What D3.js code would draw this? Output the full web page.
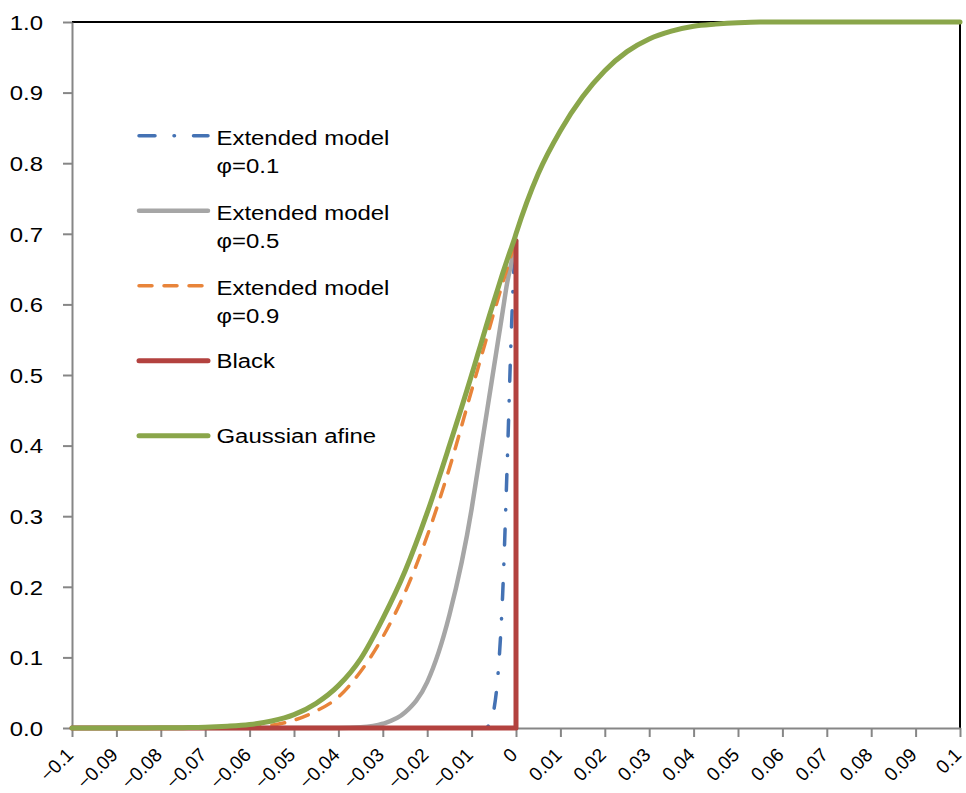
<!DOCTYPE html>
<html>
<head>
<meta charset="utf-8">
<script src="https://cdn.jsdelivr.net/npm/d3@7"></script>
<style>
    body { margin: 0; background: #fff; }
    svg { display: block; font-family: "Liberation Sans", Arial, sans-serif; }
</style>
</head>
<body>
<svg width="966" height="793"></svg>
<script>
var xGrid = [-0.1, -0.095, -0.09, -0.085, -0.08, -0.075, -0.07, -0.065, -0.06, -0.055,
    -0.05, -0.045, -0.04, -0.035, -0.03, -0.025, -0.02, -0.015, -0.01, -0.009,
    -0.008, -0.007, -0.006, -0.005, -0.004, -0.003, -0.002, -0.001, -0.0005, 0,
    0.005, 0.01, 0.015, 0.02, 0.025, 0.03, 0.035, 0.04, 0.045, 0.05, 0.055, 0.06, 0.07, 0.08, 0.09, 0.1];

var phi01 = [0, 0, 0, 0, 0, 0, 0, 0, 0, 0,
    0, 0, 0, 0, 0, 0, 0, 0, 0, 0,
    0, 0, 0.005, 0.025, 0.08, 0.19, 0.37, 0.57, 0.645, 0.69];
var phi05 = [0, 0, 0, 0, 0, 0, 0, 0, 0, 0,
    0, 0, 0, 0.001, 0.006, 0.022, 0.065, 0.16, 0.31, 0.35,
    0.39, 0.43, 0.47, 0.51, 0.55, 0.59, 0.63, 0.66, 0.675, 0.69];
var phi09 = [0, 0, 0, 0, 0, 0, 0, 0.0003, 0.001, 0.004,
    0.011, 0.024, 0.044, 0.08, 0.129, 0.192, 0.272, 0.368, 0.478, 0.5,
    0.522, 0.544, 0.566, 0.588, 0.609, 0.63, 0.651, 0.671, 0.681, 0.69];
var gaussian = [0, 0, 0, 0.0001, 0.0002, 0.0005, 0.001, 0.0025, 0.005, 0.01,
    0.019, 0.035, 0.06, 0.098, 0.155, 0.222, 0.305, 0.4, 0.5, 0.521,
    0.542, 0.563, 0.584, 0.604, 0.624, 0.644, 0.663, 0.681, 0.69, 0.7,
    0.785, 0.846, 0.894, 0.931, 0.958, 0.976, 0.987, 0.994, 0.997, 0.999, 1, 1, 1, 1, 1, 1];

// Black: flat at zero, then the jump at x = 0
var blackX = [-0.1, 0, 0];
var blackY = [0, 0, 0.69];

var xTickValues = [-0.1, -0.09, -0.08, -0.07, -0.06, -0.05, -0.04, -0.03, -0.02, -0.01, 0,
    0.01, 0.02, 0.03, 0.04, 0.05, 0.06, 0.07, 0.08, 0.09, 0.1];
var xTickLabels = ["\u22120.1", "\u22120.09", "\u22120.08", "\u22120.07", "\u22120.06", "\u22120.05",
    "\u22120.04", "\u22120.03", "\u22120.02", "\u22120.01", "0",
    "0.01", "0.02", "0.03", "0.04", "0.05", "0.06", "0.07", "0.08", "0.09", "0.1"];
var yTickValues = [0, 0.1, 0.2, 0.3, 0.4, 0.5, 0.6, 0.7, 0.8, 0.9, 1];
var yTickLabels = ["0.0", "0.1", "0.2", "0.3", "0.4", "0.5", "0.6", "0.7", "0.8", "0.9", "1.0"];

var legendLabels = [["Extended model", "\u03c6=0.1"], ["Extended model", "\u03c6=0.5"],
    ["Extended model", "\u03c6=0.9"], ["Black"], ["Gaussian afine"]];

var svg = d3.select("svg");
var plotLeft = 72, plotRight = 960, plotTop = 22, plotBottom = 728,
    textStretch = 1.14,
    axisColor = "#868686";

var x = d3.scaleLinear().domain([-0.1, 0.1]).range([plotLeft, plotRight]);
var y = d3.scaleLinear().domain([0, 1]).range([plotBottom, plotTop]);

// plot frame (top and right)
svg.append("path")
    .attr("d", "M" + plotLeft + "," + plotTop + "H" + plotRight + "V" + plotBottom)
    .attr("fill", "none")
    .attr("stroke", "#000")
    .attr("stroke-width", 2);

var xAxis = svg.append("g")
    .attr("transform", "translate(0," + plotBottom + ")")
    .call(d3.axisBottom(x).tickValues(xTickValues)
        .tickFormat(function (d, i) { return xTickLabels[i]; })
        .tickSize(9).tickSizeOuter(0));

xAxis.selectAll("text")
    .attr("y", null).attr("dy", null)
    .attr("transform", "translate(2,28) rotate(-45)")
    .style("text-anchor", "end")
    .style("font-size", "19px");

var yAxis = svg.append("g")
    .attr("transform", "translate(" + plotLeft + ",0)")
    .call(d3.axisLeft(y).tickValues(yTickValues)
        .tickFormat(function (d, i) { return yTickLabels[i]; })
        .tickSize(9).tickSizeOuter(0));

yAxis.selectAll("text")
    .attr("x", null)
    .attr("dy", "0.35em")
    .attr("transform", "translate(-29,0) scale(" + textStretch + ",1)")
    .style("text-anchor", "end")
    .style("font-size", "21px");

svg.selectAll(".domain, .tick line")
    .attr("stroke", axisColor)
    .attr("stroke-width", 2);
svg.selectAll(".tick text")
    .attr("fill", "#000")
    .style("font-family", "'Liberation Sans', Arial, sans-serif");

var series = [
    { values: phi01, color: "#4472b4", width: 3.5, dash: "16,19,0.5,19" },
    { values: phi05, color: "#a6a6a6", width: 4.5, dash: null },
    { values: phi09, color: "#e8843a", width: 3.5, dash: "13,12" },
    { values: null, color: "#b3423f", width: 5, dash: null },
    { values: gaussian, color: "#8aa64a", width: 5, dash: null }
];

var smoothLine = d3.line()
    .x(function (d) { return x(d[0]); })
    .y(function (d) { return y(d[1]); })
    .curve(d3.curveMonotoneX);

var straightLine = d3.line()
    .x(function (d) { return x(d[0]); })
    .y(function (d) { return y(d[1]); });

series.forEach(function (s) {
    var d;
    if (s.values) {
        d = smoothLine(s.values.map(function (v, i) { return [xGrid[i], v]; }));
    } else {
        d = straightLine(blackX.map(function (v, i) { return [v, blackY[i]]; }));
    }
    svg.append("path")
        .attr("d", d)
        .attr("fill", "none")
        .attr("stroke", s.color)
        .attr("stroke-width", s.width)
        .attr("stroke-linecap", "round")
        .attr("stroke-linejoin", "round")
        .attr("stroke-dasharray", s.dash);
});

// legend
var legend = svg.append("g");
legendLabels.forEach(function (lines, i) {
    var rowY = 135.7 + i * 75,
        s = series[i];
    legend.append("line")
        .attr("x1", 139).attr("x2", 208)
        .attr("y1", rowY).attr("y2", rowY)
        .attr("stroke", s.color)
        .attr("stroke-width", s.width)
        .attr("stroke-linecap", "round")
        .attr("stroke-dasharray", s.dash);
    var baseY = rowY + (lines.length > 1 ? 9.3 : 7.5);
    lines.forEach(function (t, j) {
        legend.append("text")
            .attr("transform", "translate(216.5," + (baseY + j * 28.3) + ") scale(" + textStretch + ",1)")
            .style("font-size", "21px")
            .attr("fill", "#000")
            .text(t);
    });
});
</script>
</body>
</html>
